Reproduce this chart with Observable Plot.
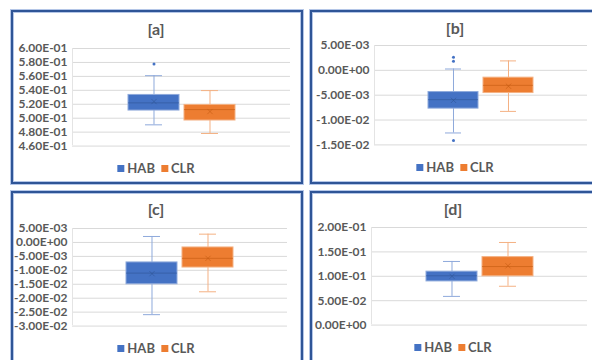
<!DOCTYPE html>
<html>
<head>
<meta charset="utf-8">
<script src="https://cdn.jsdelivr.net/npm/d3@7"></script>
<script src="https://cdn.jsdelivr.net/npm/@observablehq/plot@0.6"></script>
<style>
  html, body { margin: 0; padding: 0; background: #fff; }
  #root { position: relative; width: 592px; height: 360px; overflow: hidden; background: #fff; font-family: Lato, "Open Sans", sans-serif; }
  .panel { position: absolute; box-sizing: border-box; border: 2px solid #2F5597; box-shadow: 0 0 0 1px #B4C6E7, inset 0 0 0 1px #B4C6E7; background: #fff; }
  .title { position: absolute; transform: translate(-50%, -50%); font-weight: bold; font-size: 16px; color: #595959; white-space: nowrap; }
  .legend { position: absolute; transform: translate(-50%, -50%); display: flex; align-items: center; font-weight: bold; font-size: 13px; color: #595959; white-space: nowrap; }
  .legend .sw { width: 7px; height: 7px; margin-right: 3px; }
  .legend .item { display: flex; align-items: center; margin: 0 3px; }
  .chart { position: absolute; }
</style>
</head>
<body>
<div id="root"></div>
<script>
// ---- data ----
const series = ["HAB", "CLR"];
const seriesColors = ["#4472C4", "#ED7D31"];
const whiskerColors = ["#8EA9DB", "#F4B183"];
const darkColors = ["#2F5597", "#C55A11"];
const panelTitles = ["[a]", "[b]", "[c]", "[d]"];

const lowWhisker  = [[0.4905, 0.4781], [-0.0126, -0.00826], [-0.0259, -0.0177], [0.0588, 0.0796]];
const q1          = [[0.5110, 0.4967], [-0.0077, -0.00457], [-0.0150, -0.0090], [0.0895, 0.1000]];
const median      = [[0.5220, 0.5124], [-0.0059, -0.00302], [-0.0110, -0.0057], [0.1010, 0.1200]];
const q3          = [[0.5334, 0.5191], [-0.00437, -0.00147], [-0.00717, -0.0018], [0.1095, 0.1393]];
const highWhisker = [[0.5610, 0.5396], [0.00027, 0.0019], [0.00214, 0.00297], [0.1304, 0.1693]];
const means       = [[0.5239, 0.5096], [-0.00604, -0.0032], [-0.0112, -0.0057], [0.1000, 0.1215]];
const outliers    = [[[0.5776], []], [[0.00265, 0.00185, -0.0141], []], [[], []], [[], []]];

const yTicks = [
  [0.46, 0.48, 0.50, 0.52, 0.54, 0.56, 0.58, 0.60],
  [-0.015, -0.010, -0.005, 0, 0.005],
  [-0.030, -0.025, -0.020, -0.015, -0.010, -0.005, 0, 0.005],
  [0, 0.05, 0.10, 0.15, 0.20]
];

// ---- layout (page pixels) ----
const layout = [
  {left: 11,  top: 10,  w: 292, h: 174, px0: 72,  px1: 290, py0: 47.7,  py1: 145.3, cx: 156, titleY: 28,  legendY: 168},
  {left: 310, top: 10,  w: 292, h: 174, px0: 374, px1: 587, py0: 45.3,  py1: 144.7, cx: 455, titleY: 27,  legendY: 167},
  {left: 11,  top: 191, w: 292, h: 190, px0: 72,  px1: 287, py0: 227.7, py1: 325.3, cx: 156, titleY: 208, legendY: 348},
  {left: 310, top: 191, w: 292, h: 190, px0: 371, px1: 587, py0: 226.7, py1: 324.3, cx: 453, titleY: 208, legendY: 347}
];

const fmt = v => {
  let [m, e] = v.toExponential(2).split("e");
  const sign = e[0] === "-" ? "-" : "+";
  e = e.replace(/^[+-]/, "").padStart(2, "0");
  return m + "E" + sign + e;
};

const root = document.getElementById("root");

layout.forEach((L, i) => {
  const panel = document.createElement("div");
  panel.className = "panel";
  Object.assign(panel.style, {left: L.left + "px", top: L.top + "px", width: L.w + "px", height: L.h + "px"});
  root.appendChild(panel);

  const title = document.createElement("div");
  title.className = "title";
  title.textContent = panelTitles[i];
  Object.assign(title.style, {left: L.cx + "px", top: L.titleY + "px"});
  root.appendChild(title);

  const rows = series.map((s, j) => ({
    s, lo: lowWhisker[i][j], q1: q1[i][j], med: median[i][j], q3: q3[i][j], hi: highWhisker[i][j], mean: means[i][j],
    fill: seriesColors[j], light: whiskerColors[j], dark: darkColors[j]
  }));
  const outRows = series.flatMap((s, j) => outliers[i][j].map(v => ({s, v, fill: seriesColors[j]})));

  const mL = 62, mR = 4, mT = 8, mB = 8;
  const ticks = yTicks[i];
  const chart = Plot.plot({
    width: L.px1 - L.px0 + mL + mR,
    height: L.py1 - L.py0 + mT + mB,
    marginLeft: mL, marginRight: mR, marginTop: mT, marginBottom: mB,
    style: {background: "transparent", color: "#595959", fontFamily: "Lato, 'Open Sans', sans-serif", fontSize: "12px", fontWeight: "bold", overflow: "visible"},
    x: {type: "band", domain: series, paddingInner: 0.09, paddingOuter: 0.96, axis: null},
    y: {domain: [d3.min(ticks), d3.max(ticks)], axis: null},
    color: {type: "identity"},
    marks: [
      Plot.gridY(ticks, {stroke: "#D9D9D9", strokeOpacity: 1}),
      Plot.axisY({ticks, tickFormat: fmt, tickSize: 0, tickPadding: 5, fill: "#595959", fontWeight: "bold"}),
      Plot.ruleX(rows, {x: "s", y1: "lo", y2: "q1", stroke: "light", strokeWidth: 1}),
      Plot.ruleX(rows, {x: "s", y1: "q3", y2: "hi", stroke: "light", strokeWidth: 1}),
      Plot.tickY(rows, {x: "s", y: "lo", stroke: "light", insetLeft: 17, insetRight: 17}),
      Plot.tickY(rows, {x: "s", y: "hi", stroke: "light", insetLeft: 17, insetRight: 17}),
      Plot.barY(rows, {x: "s", y1: "q1", y2: "q3", fill: "fill", stroke: "light", strokeWidth: 1}),
      Plot.tickY(rows, {x: "s", y: "med", stroke: "dark", strokeOpacity: 0.6, strokeWidth: 1}),
      Plot.dot(rows, {x: "s", y: "mean", symbol: "times", r: 2.5, stroke: "dark", strokeOpacity: 0.6, strokeWidth: 1}),
      Plot.dot(outRows, {x: "s", y: "v", r: 1.5, fill: "fill", stroke: null})
    ]
  });
  chart.classList.add("chart");
  Object.assign(chart.style, {left: (L.px0 - mL) + "px", top: (L.py0 - mT) + "px"});
  root.appendChild(chart);

  // faint value-axis line on the left of the plot area
  const axisLine = document.createElement("div");
  Object.assign(axisLine.style, {position: "absolute", left: L.px0 + "px", top: L.py0 + "px", width: "1px", height: (L.py1 - L.py0) + "px", background: "#E4E4E4"});
  root.appendChild(axisLine);

  const legend = document.createElement("div");
  legend.className = "legend";
  Object.assign(legend.style, {left: L.cx + "px", top: L.legendY + "px"});
  series.forEach((s, j) => {
    const item = document.createElement("span");
    item.className = "item";
    const sw = document.createElement("span");
    sw.className = "sw";
    sw.style.background = seriesColors[j];
    const t = document.createElement("span");
    t.textContent = s;
    item.appendChild(sw); item.appendChild(t);
    legend.appendChild(item);
  });
  root.appendChild(legend);
});
</script>
</body>
</html>
